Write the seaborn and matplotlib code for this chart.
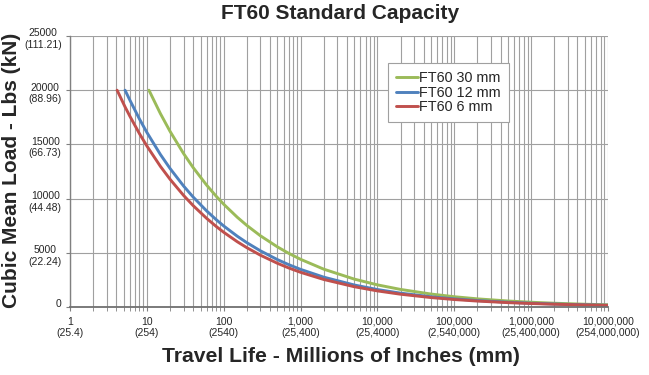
import numpy as np
import pandas as pd
import matplotlib
matplotlib.use("Agg")
import matplotlib.pyplot as plt
import matplotlib.transforms as mtrans
import seaborn as sns

# ---- data ----
x_30mm = [10.65, 15, 20, 30, 40, 60, 80, 100, 150, 200, 300, 500, 700, 1000, 2000, 5000,
          1e4, 2e4, 5e4, 1e5, 2e5, 5e5, 1e6, 2e6, 5e6, 1e7]
y_30mm = [20000, 17843, 16212, 14161, 12865, 11239, 10211, 9479, 8282, 7524, 6573, 5544, 4956,
          4400, 3492, 2573, 2042, 1621, 1194, 948, 752, 554, 440, 349, 257, 204]

x_12mm = [5.2, 6, 8, 10, 15, 20, 30, 40, 60, 80, 100, 150, 200, 300, 500, 700, 1000, 2000, 5000,
          1e4, 2e4, 5e4, 1e5, 2e5, 5e5, 1e6, 2e6, 5e6, 1e7]
y_12mm = [20000, 19097, 17350, 16110, 14071, 12786, 11168, 10146, 8863, 8053, 7475, 6531, 5934,
          5184, 4372, 3908, 3470, 2754, 2029, 1611, 1278, 942, 748, 593, 437, 347, 275, 203, 161]

x_6mm = [4.1, 5.2, 6, 8, 10, 15, 20, 30, 40, 60, 80, 100, 150, 200, 300, 500, 700, 1000, 2000, 5000,
         1e4, 2e4, 5e4, 1e5, 2e5, 5e5, 1e6, 2e6, 5e6, 1e7]
y_6mm = [20000, 18465, 17611, 16000, 14856, 12976, 11791, 10299, 9357, 8174, 7426, 6894, 6023,
         5472, 4780, 4032, 3604, 3200, 2540, 1871, 1485, 1179, 869, 689, 547, 403, 320, 254, 187, 149]

series_names = ["FT60 30 mm", "FT60 12 mm", "FT60 6 mm"]
series_colors = ["#9BBB59", "#4F81BD", "#C0504D"]

x_ticks = [1, 10, 100, 1000, 1e4, 1e5, 1e6, 1e7]
x_tick_labels = ["1\n(25.4)", "10\n(254)", "100\n(2540)", "1,000\n(25,400)", "10,000\n(25,4000)",
                 "100,000\n(2,540,000)", "1,000,000\n(25,400,000)", "10,000,000\n(254,000,000)"]
y_ticks = [0, 5000, 10000, 15000, 20000, 25000]
y_tick_labels = ["0", "5000\n(22.24)", "10000\n(44.48)", "15000\n(66.73)", "20000\n(88.96)",
                 "25000\n(111.21)"]

title = "FT60 Standard Capacity"
x_label = "Travel Life - Millions of Inches (mm)"
y_label = "Cubic Mean Load - Lbs (kN)"

# ---- build long table ----
frames = []
for name, xs, ys in zip(series_names, [x_30mm, x_12mm, x_6mm], [y_30mm, y_12mm, y_6mm]):
    frames.append(pd.DataFrame({"x": xs, "y": ys, "series": name}))
df = pd.concat(frames, ignore_index=True)

sns.set_style("white")
plt.rcParams["font.family"] = ["Liberation Sans", "DejaVu Sans"]

fig = plt.figure(figsize=(6.49, 3.75), dpi=100)
ax = fig.add_axes([70 / 649, 68 / 375, 538 / 649, 271 / 375])

sns.lineplot(data=df, x="x", y="y", hue="series", hue_order=series_names,
             palette=series_colors, linewidth=2.1, ax=ax, sort=False, estimator=None)

ax.set_xscale("log")
ax.set_xlim(1, 1e7)
ax.set_ylim(0, 25000)

grid_col = "#a0a0a0"
ax.grid(True, which="major", axis="both", color=grid_col, linewidth=0.8)
ax.grid(True, which="minor", axis="x", color=grid_col, linewidth=0.8)
ax.set_axisbelow(True)
for s in ["top", "right"]:
    ax.spines[s].set_visible(False)
ax.spines["left"].set_color("#808080")
ax.spines["bottom"].set_color("#707070")
ax.spines["left"].set_linewidth(1.0)
ax.spines["bottom"].set_linewidth(1.3)

ax.set_xticks(x_ticks)
ax.set_xticklabels(x_tick_labels, fontsize=7.5)
ax.set_yticks(y_ticks)
ax.set_yticklabels(y_tick_labels, fontsize=7.5, multialignment="center")
ax.xaxis.set_minor_locator(matplotlib.ticker.LogLocator(base=10, subs=np.arange(2, 10)))
ax.xaxis.set_minor_formatter(matplotlib.ticker.NullFormatter())
ax.tick_params(axis="x", which="both", direction="out", length=3, color="#808080", pad=4, bottom=True)
ax.tick_params(axis="y", which="major", direction="out", length=3, color="#808080", pad=3, left=True)

off = mtrans.ScaledTranslation(0, 5.5 / 72, fig.dpi_scale_trans)
for lab in ax.get_yticklabels():
    lab.set_verticalalignment("top")
    lab.set_transform(lab.get_transform() + off)

ax.set_xlabel(x_label, fontsize=15.2, fontweight="bold")
ax.xaxis.set_label_coords((341 - 70) / 538, (307 - 347) / 271)
ax.set_ylabel(y_label, fontsize=15.0, fontweight="bold")
ax.yaxis.set_label_coords((21 - 70) / 538, (307 - 170) / 271)
fig.text(340 / 649, 1 - 13.5 / 375, title, fontsize=15, fontweight="bold", ha="center", va="center")

leg = ax.legend(loc="upper left", bbox_to_anchor=((388 - 70) / 538, (307 - 63) / 271),
                borderaxespad=0, fontsize=10.4, frameon=True, fancybox=False, handlelength=1.5,
                handletextpad=0.1, labelspacing=0.05, borderpad=0.55, title=None)
leg.get_frame().set_edgecolor("#a0a0a0")
leg.get_frame().set_linewidth(0.8)
leg.get_frame().set_alpha(1.0)

fig.savefig("out.png", dpi=100)
